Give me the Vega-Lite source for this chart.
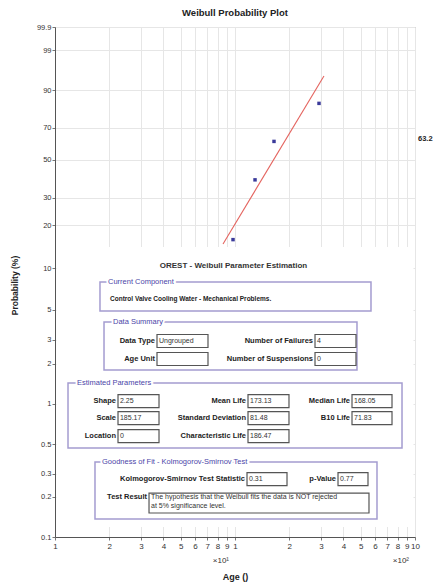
{
  "$schema": "https://vega.github.io/schema/vega-lite/v6.json",
  "width": 360,
  "height": 510,
  "autosize": {"type": "none"},
  "padding": {"left": 55, "top": 27, "right": 20, "bottom": 46},
  "title": {"text": "Weibull Probability Plot", "fontSize": 9.5, "fontWeight": "bold", "baseline": "middle", "offset": 1, "color": "#222"},
  "config": {
    "font": "Liberation Sans",
    "view": {"stroke": "#999", "strokeWidth": 1}
  },
  "data": {"values": [
    {"set": "point", "age": 97.5, "prob": 15.91},
    {"set": "point", "age": 129.2, "prob": 38.64},
    {"set": "point", "age": 164.7, "prob": 61.36},
    {"set": "point", "age": 292.9, "prob": 84.09},
    {"set": "fit", "age": 85.8, "prob": 14.85},
    {"set": "fit", "age": 312, "prob": 94.79},
    {"set": "panel", "age": 10.19, "age2": 981, "prob": 14.14, "prob2": 0.1188},
    {"set": "group", "age": 17.78, "age2": 569.5, "prob": 7.973, "prob2": 4.903},
    {"set": "group", "age": 18.72, "age2": 476.1, "prob": 4.069, "prob2": 1.792},
    {"set": "group", "age": 11.81, "age2": 846.9, "prob": 1.434, "prob2": 0.4665},
    {"set": "group", "age": 16.68, "age2": 615.0, "prob": 0.3661, "prob2": 0.1365},
    {"set": "glabel", "label": "Current Component", "age": 19.70, "prob": 7.973},
    {"set": "glabel", "label": "Data Summary", "age": 21.00, "prob": 4.069},
    {"set": "glabel", "label": "Estimated Parameters", "age": 13.25, "prob": 1.434},
    {"set": "glabel", "label": "Goodness of Fit - Kolmogorov-Smirnov Test", "age": 18.24, "prob": 0.3661},
    {"set": "fbox", "age": 36.87, "age2": 70.79, "prob": 3.291, "prob2": 2.635},
    {"set": "fbox", "age": 278.3, "age2": 470.1, "prob": 3.291, "prob2": 2.635},
    {"set": "fbox", "age": 36.87, "age2": 70.79, "prob": 2.419, "prob2": 1.936},
    {"set": "fbox", "age": 278.3, "age2": 470.1, "prob": 2.419, "prob2": 1.936},
    {"set": "fbox", "age": 22.39, "age2": 37.83, "prob": 1.175, "prob2": 0.939},
    {"set": "fbox", "age": 118.1, "age2": 199.5, "prob": 1.175, "prob2": 0.939},
    {"set": "fbox", "age": 446.7, "age2": 745.2, "prob": 1.175, "prob2": 0.939},
    {"set": "fbox", "age": 22.39, "age2": 37.83, "prob": 0.8764, "prob2": 0.7002},
    {"set": "fbox", "age": 118.1, "age2": 199.5, "prob": 0.8764, "prob2": 0.7002},
    {"set": "fbox", "age": 446.7, "age2": 745.2, "prob": 0.8764, "prob2": 0.7002},
    {"set": "fbox", "age": 22.39, "age2": 37.83, "prob": 0.6423, "prob2": 0.513},
    {"set": "fbox", "age": 118.1, "age2": 199.5, "prob": 0.6423, "prob2": 0.513},
    {"set": "fbox", "age": 116.6, "age2": 194.5, "prob": 0.3052, "prob2": 0.2437},
    {"set": "fbox", "age": 373.5, "age2": 548.1, "prob": 0.3052, "prob2": 0.2437},
    {"set": "fbox", "age": 33.29, "age2": 555.1, "prob": 0.2141, "prob2": 0.1515},
    {"set": "flabel", "label": "Data Type", "age": 35.94, "prob": 2.945},
    {"set": "flabel", "label": "Number of Failures", "age": 271.3, "prob": 2.945},
    {"set": "flabel", "label": "Age Unit", "age": 35.94, "prob": 2.164},
    {"set": "flabel", "label": "Number of Suspensions", "age": 271.3, "prob": 2.164},
    {"set": "flabel", "label": "Shape", "age": 21.82, "prob": 1.05},
    {"set": "flabel", "label": "Mean Life", "age": 115.1, "prob": 1.05},
    {"set": "flabel", "label": "Median Life", "age": 435.5, "prob": 1.05},
    {"set": "flabel", "label": "Scale", "age": 21.82, "prob": 0.7834},
    {"set": "flabel", "label": "Standard Deviation", "age": 115.1, "prob": 0.7834},
    {"set": "flabel", "label": "B10 Life", "age": 435.5, "prob": 0.7834},
    {"set": "flabel", "label": "Location", "age": 21.82, "prob": 0.574},
    {"set": "flabel", "label": "Characteristic Life", "age": 115.1, "prob": 0.574},
    {"set": "flabel", "label": "Kolmogorov-Smirnov Test Statistic", "age": 113.6, "prob": 0.2727},
    {"set": "flabel", "label": "p-Value", "age": 364.0, "prob": 0.2727},
    {"set": "flabel", "label": "Test Result", "age": 32.44, "prob": 0.1998},
    {"set": "fvalue", "label": "Ungrouped", "age": 37.83, "prob": 2.945},
    {"set": "fvalue", "label": "4", "age": 285.5, "prob": 2.945},
    {"set": "fvalue", "label": "0", "age": 285.5, "prob": 2.164},
    {"set": "fvalue", "label": "2.25", "age": 22.96, "prob": 1.05},
    {"set": "fvalue", "label": "173.13", "age": 121.2, "prob": 1.05},
    {"set": "fvalue", "label": "168.05", "age": 458.3, "prob": 1.05},
    {"set": "fvalue", "label": "185.17", "age": 22.96, "prob": 0.7834},
    {"set": "fvalue", "label": "81.48", "age": 121.2, "prob": 0.7834},
    {"set": "fvalue", "label": "71.83", "age": 458.3, "prob": 0.7834},
    {"set": "fvalue", "label": "0", "age": 22.96, "prob": 0.574},
    {"set": "fvalue", "label": "186.47", "age": 121.2, "prob": 0.574},
    {"set": "fvalue", "label": "0.31", "age": 119.6, "prob": 0.2727},
    {"set": "fvalue", "label": "0.77", "age": 383.1, "prob": 0.2727},
    {"set": "fvalue", "label": "The hypothesis that the Weibull fits the data is NOT rejected", "age": 34.15, "prob": 0.1998},
    {"set": "fvalue", "label": "at 5% significance level.", "age": 34.15, "prob": 0.171},
    {"set": "plain", "label": "Control Valve Cooling Water - Mechanical Problems.", "age": 20.21, "prob": 6.002},
    {"set": "ptitle", "label": "OREST - Weibull Parameter Estimation", "age": 98.1, "prob": 10.39},
    {"set": "right", "label": "63.2", "age": 1000, "prob": 63.2},
    {"set": "xmult", "label": "×10¹", "age": 100, "prob": 0.1},
    {"set": "xmult", "label": "×10²", "age": 1000, "prob": 0.1}
  ]},
  "transform": [
    {"calculate": "log(-log(1 - datum.prob / 100))", "as": "w"},
    {"calculate": "isValid(datum.prob2) ? log(-log(1 - datum.prob2 / 100)) : null", "as": "w2"}
  ],
  "encoding": {
    "x": {
      "field": "age", "type": "quantitative",
      "scale": {"type": "log", "domain": [10, 1000], "nice": false},
      "axis": {
        "values": [10, 20, 30, 40, 50, 60, 70, 80, 90, 100, 200, 300, 400, 500, 600, 700, 800, 900, 1000],
        "labelExpr": "datum.value < 100 ? format(datum.value / 10, 'd') : (datum.value == 100 ? '1' : format(datum.value / 100, 'd'))",
        "grid": true, "gridColor": "#e6e6e6", "gridWidth": 1,
        "tickSize": 3, "tickColor": "#777", "domainColor": "#555",
        "labelFontSize": 8, "labelColor": "#333", "labelPadding": 2,
        "labelOverlap": false, "labelFlush": false,
        "titleFontSize": 9, "titleFontWeight": "bold", "titleColor": "#222",
        "titleY": 39, "titleBaseline": "middle"
      },
      "title": "Age ()"
    },
    "y": {
      "field": "w", "type": "quantitative",
      "scale": {"domain": [-6.90726, 1.93264], "nice": false, "zero": false},
      "axis": {
        "values": [-6.90726, -6.21361, -5.80763, -5.29583, -4.60015, -3.90194, -3.49137, -2.9702, -2.25037, -1.49994, -1.03093, -0.36651, 0.18563, 0.83403, 1.52718, 1.93264],
        "labelExpr": "format(100 * (1 - exp(-exp(datum.value))), '.3~g')",
        "grid": true, "gridColor": "#e6e6e6", "gridWidth": 1,
        "tickSize": 3, "tickColor": "#777", "domainColor": "#555",
        "labelFontSize": 7.5, "labelColor": "#333", "labelPadding": 1,
        "labelOverlap": false, "labelFlush": false,
        "titleFontSize": 8.5, "titleFontWeight": "bold", "titleColor": "#222",
        "titleX": -41, "titleY": 258, "titleAlign": "center", "titleBaseline": "middle", "titleAngle": -90
      },
      "title": "Probability (%)"
    }
  },
  "layer": [
    {
      "transform": [{"filter": "datum.set == 'panel'"}],
      "mark": {"type": "rect", "fill": "white", "stroke": null},
      "encoding": {"x2": {"field": "age2"}, "y2": {"field": "w2"}}
    },
    {
      "transform": [{"filter": "datum.set == 'fit'"}],
      "mark": {"type": "line", "color": "#e4645f", "strokeWidth": 1.1},
      "encoding": {}
    },
    {
      "transform": [{"filter": "datum.set == 'point'"}],
      "mark": {"type": "point", "shape": "square", "filled": true, "color": "#3a3a9a", "size": 12, "opacity": 1},
      "encoding": {}
    },
    {
      "transform": [{"filter": "datum.set == 'group'"}],
      "mark": {"type": "rect", "fill": null, "stroke": "#a49cd0", "strokeWidth": 1.5},
      "encoding": {"x2": {"field": "age2"}, "y2": {"field": "w2"}}
    },
    {
      "transform": [{"filter": "datum.set == 'fbox'"}],
      "mark": {"type": "rect", "fill": "white", "stroke": "#555", "strokeWidth": 1.2},
      "encoding": {"x2": {"field": "age2"}, "y2": {"field": "w2"}}
    },
    {
      "transform": [{"filter": "datum.set == 'glabel'"}],
      "mark": {"type": "text", "align": "left", "baseline": "middle", "fontSize": 7.5, "fill": "white", "stroke": "white", "strokeWidth": 4},
      "encoding": {"text": {"field": "label"}}
    },
    {
      "transform": [{"filter": "datum.set == 'glabel'"}],
      "mark": {"type": "text", "align": "left", "baseline": "middle", "fontSize": 7.5, "color": "#4b45a8"},
      "encoding": {"text": {"field": "label"}}
    },
    {
      "transform": [{"filter": "datum.set == 'ptitle'"}],
      "mark": {"type": "text", "align": "center", "baseline": "middle", "fontSize": 8, "fontWeight": "bold", "color": "#333"},
      "encoding": {"text": {"field": "label"}}
    },
    {
      "transform": [{"filter": "datum.set == 'plain'"}],
      "mark": {"type": "text", "align": "left", "baseline": "middle", "fontSize": 6.5, "fontWeight": "bold", "color": "#222"},
      "encoding": {"text": {"field": "label"}}
    },
    {
      "transform": [{"filter": "datum.set == 'flabel'"}],
      "mark": {"type": "text", "align": "right", "baseline": "middle", "fontSize": 7.5, "fontWeight": "bold", "color": "#222"},
      "encoding": {"text": {"field": "label"}}
    },
    {
      "transform": [{"filter": "datum.set == 'fvalue'"}],
      "mark": {"type": "text", "align": "left", "baseline": "middle", "fontSize": 7, "color": "#333"},
      "encoding": {"text": {"field": "label"}}
    },
    {
      "transform": [{"filter": "datum.set == 'right'"}],
      "mark": {"type": "text", "align": "left", "baseline": "middle", "dx": 3, "fontSize": 7.5, "fontWeight": "bold", "color": "#222"},
      "encoding": {"text": {"field": "label"}}
    },
    {
      "transform": [{"filter": "datum.set == 'xmult'"}],
      "mark": {"type": "text", "align": "right", "baseline": "middle", "dx": -6, "dy": 24, "fontSize": 8, "color": "#333"},
      "encoding": {"text": {"field": "label"}}
    }
  ]
}
